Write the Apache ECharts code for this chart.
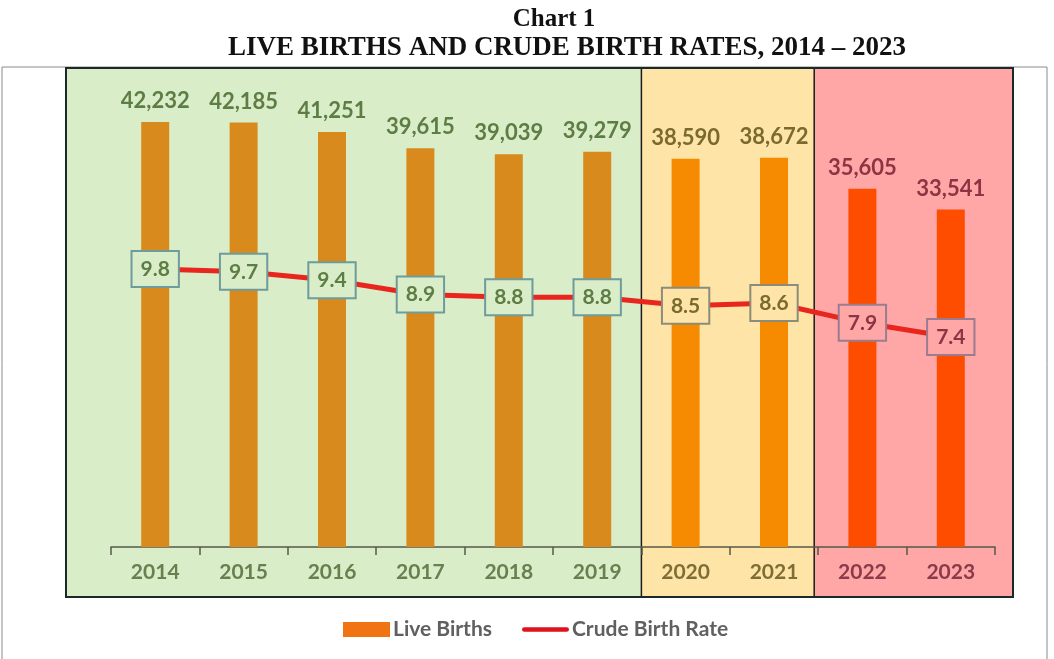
<!DOCTYPE html>
<html>
<head>
<meta charset="utf-8">
<script src="https://cdn.jsdelivr.net/npm/echarts@6/dist/echarts.min.js"></script>
<style>
html, body { margin: 0; padding: 0; background: #fff; }
#main { width: 1054px; height: 659px; }
</style>
</head>
<body>
<div id="main"></div>
<script>
// chart data
var years = ['2014', '2015', '2016', '2017', '2018', '2019', '2020', '2021', '2022', '2023'];
var liveBirths = [42232, 42185, 41251, 39615, 39039, 39279, 38590, 38672, 35605, 33541];
var birthRate = [9.8, 9.7, 9.4, 8.9, 8.8, 8.8, 8.5, 8.6, 7.9, 7.4];
// which shaded period each year belongs to (0 green, 1 yellow, 2 red)
var period = [0, 0, 0, 0, 0, 0, 1, 1, 2, 2];

var bgColors = ['#DAEDC9', '#FEE4A6', '#FFA7A7'];
var barColors = ['#D98A1C', '#F68A00', '#FF4D00'];
var textColors = ['#5E7D45', '#7A6A2E', '#8A3444'];
var axisColors = ['#66804F', '#7E6E36', '#8A3A48'];
var boxBorders = ['#6E9B9B', '#8C8C7C', '#9A7C8E'];
var FONT = 'Lato';

function fmt(n) {
    return String(n).replace(/\B(?=(\d{3})+(?!\d))/g, ',');
}

var barData = liveBirths.map(function (v, i) {
    var p = period[i];
    return {
        value: v,
        itemStyle: { color: barColors[p] },
        label: { color: textColors[p] }
    };
});

var rateData = birthRate.map(function (v, i) {
    var p = period[i];
    return {
        value: v,
        label: {
            color: textColors[p],
            backgroundColor: bgColors[p],
            borderColor: boxBorders[p]
        }
    };
});

var rich = {};
[0, 1, 2].forEach(function (p) {
    rich['p' + p] = { color: axisColors[p], fontFamily: FONT, fontWeight: 'bold', fontSize: 21 };
});

var chart = echarts.init(document.getElementById('main'));

var option = {
    backgroundColor: '#fff',
    animation: false,
    title: [
        {
            text: 'Chart 1',
            left: 549, top: 2, textAlign: 'center',
            textStyle: { fontFamily: 'Liberation Serif', fontWeight: 'bold', fontSize: 25, color: '#111' }
        },
        {
            text: 'LIVE BIRTHS AND CRUDE BIRTH RATES, 2014 \u2013 2023',
            left: 562, top: 30, textAlign: 'center',
            textStyle: { fontFamily: 'Liberation Serif', fontWeight: 'bold', fontSize: 27, color: '#111' }
        }
    ],
    legend: {
        left: 338, top: 614,
        itemWidth: 47, itemHeight: 15, itemGap: 30,
        textStyle: { fontFamily: FONT, fontWeight: 'bold', fontSize: 21, color: '#606060', padding: [0, 0, 0, -2] },
        data: [
            { name: 'Live Births', icon: 'rect', itemStyle: { color: '#F07414' } },
            { name: 'Crude Birth Rate', icon: 'path://M2,4 L38,4 A2,2 0 0 1 38,8 L2,8 A2,2 0 0 1 2,4 Z', itemStyle: { color: '#E0121C' } }
        ]
    },
    grid: { left: 111, right: 59, top: 68, bottom: 112, containLabel: false },
    xAxis: {
        type: 'category',
        data: years,
        axisLine: { show: true, lineStyle: { color: '#55584A', width: 1.5 } },
        axisTick: { show: true, length: 8, lineStyle: { color: '#55584A', width: 1.5 } },
        axisLabel: {
            margin: 15,
            formatter: function (v, i) { return '{p' + period[i] + '|' + v + '}'; },
            rich: rich
        }
    },
    yAxis: [
        { type: 'value', min: 0, max: 47600, show: false, splitLine: { show: false } },
        { type: 'value', min: 0, max: 16.88, show: false, splitLine: { show: false } }
    ],
    series: [
        {
            name: 'Live Births',
            type: 'bar',
            barWidth: 28,
            itemStyle: { color: '#F08010' },
            label: {
                show: true, position: 'top', distance: 10,
                fontFamily: FONT, fontWeight: 'bold', fontSize: 22,
                formatter: function (p) { return fmt(p.value); }
            },
            data: barData,
            z: 2
        },
        {
            name: 'Crude Birth Rate',
            type: 'line',
            yAxisIndex: 1,
            symbol: 'circle',
            symbolSize: 1,
            lineStyle: { color: '#E8261E', width: 5 },
            itemStyle: { color: '#E8261E' },
            label: {
                show: true, position: 'inside',
                fontFamily: FONT, fontWeight: 'bold', fontSize: 21,
                borderWidth: 2, padding: [7, 8, 6, 8],
                formatter: function (p) { return p.value.toFixed(1); }
            },
            data: rateData,
            z: 4
        }
    ]
};

chart.setOption(option);

// shaded period panels behind the plot, placed from the category axis
function buildPanels() {
    var c0 = chart.convertToPixel({ xAxisIndex: 0 }, years[0]);
    var c1 = chart.convertToPixel({ xAxisIndex: 0 }, years[1]);
    var band = c1 - c0;
    var edge = function (i) { return c0 - band / 2 + i * band; };
    var top = 68, bottom = 597;
    var x0 = edge(0) - 45, x1 = edge(6), x2 = edge(8) - 4, x3 = edge(10) + 18;
    var els = [
        { type: 'rect', z: -10, shape: { x: 2, y: 67, width: 1045, height: 600 },
          style: { fill: '#fff', stroke: '#8a8a8a', lineWidth: 1 } },
        { type: 'rect', z: -9, shape: { x: x0, y: top, width: x1 - x0, height: bottom - top },
          style: { fill: bgColors[0] } },
        { type: 'rect', z: -9, shape: { x: x1, y: top, width: x2 - x1, height: bottom - top },
          style: { fill: bgColors[1] } },
        { type: 'rect', z: -9, shape: { x: x2, y: top, width: x3 - x2, height: bottom - top },
          style: { fill: bgColors[2] } },
        { type: 'line', z: -8, shape: { x1: x1, y1: top, x2: x1, y2: bottom },
          style: { stroke: '#1a1a1a', lineWidth: 1.5 } },
        { type: 'line', z: -8, shape: { x1: x2, y1: top, x2: x2, y2: bottom },
          style: { stroke: '#1a1a1a', lineWidth: 1.5 } },
        { type: 'rect', z: -8, shape: { x: x0, y: top, width: x3 - x0, height: bottom - top },
          style: { fill: 'none', stroke: '#1a2a2a', lineWidth: 2 } }
    ];
    chart.setOption({ graphic: els });
}
buildPanels();
</script>
</body>
</html>
